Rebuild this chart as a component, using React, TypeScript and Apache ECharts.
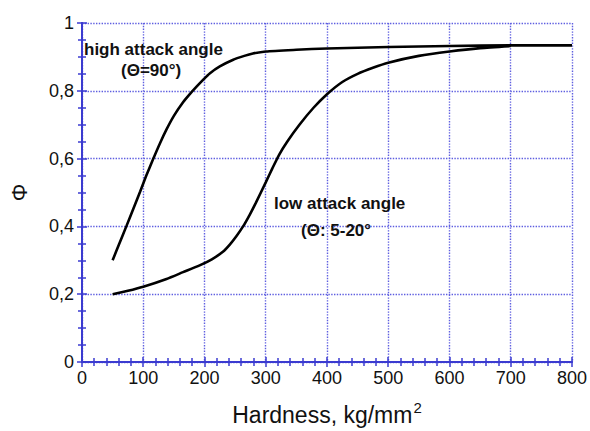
import React, { useEffect, useRef } from "react";
import * as echarts from "echarts";

const highX = [50, 60, 73, 84, 95, 105, 116, 127, 138, 150, 165, 176, 187, 198, 209, 225, 246, 265, 279, 300, 350, 400, 500, 600, 700, 800];
const highY = [0.3, 0.345, 0.403, 0.453, 0.503, 0.55, 0.598, 0.644, 0.686, 0.726, 0.766, 0.79, 0.812, 0.833, 0.852, 0.872, 0.891, 0.903, 0.91, 0.916, 0.921, 0.925, 0.929, 0.932, 0.934, 0.934];
const lowX = [50, 75, 100, 138, 165, 192, 212, 230, 242, 252, 263, 274, 284, 300, 311, 322, 335, 355, 378, 400, 425, 450, 475, 500, 550, 600, 650, 700];
const lowY = [0.2, 0.21, 0.222, 0.245, 0.265, 0.285, 0.303, 0.325, 0.348, 0.371, 0.4, 0.435, 0.47, 0.53, 0.572, 0.612, 0.65, 0.7, 0.75, 0.79, 0.826, 0.85, 0.868, 0.883, 0.903, 0.916, 0.926, 0.932];
const xTicks = [0, 100, 200, 300, 400, 500, 600, 700, 800];
const yTicks = [0, 0.2, 0.4, 0.6, 0.8, 1];

const BLUE = "#3b3bd0";
const GRIDBLUE = "#5e5ee0";

export default function App() {
  const ref = useRef<HTMLDivElement>(null);
  useEffect(() => {
    if (!ref.current) return;
    const chart = echarts.init(ref.current, null, { renderer: "svg" });
    const axisCommon = {
      axisLine: { show: true, lineStyle: { color: BLUE, width: 2 } },
      axisTick: { show: true, inside: true, length: 5, lineStyle: { color: BLUE, width: 1.5 } },
      minorTick: { show: true, splitNumber: 5, length: 4, lineStyle: { color: BLUE, width: 1.5 } },
    };
    chart.setOption({
      animation: false,
      grid: { left: 82, right: 17, top: 23, bottom: 67 },
      xAxis: [
        {
          type: "value",
          min: xTicks[0],
          max: xTicks[xTicks.length - 1],
          interval: 100,
          ...axisCommon,
          axisLabel: { fontFamily: "Liberation Sans", fontSize: 18, color: "#111", margin: 7 },
          splitLine: { show: true, lineStyle: { color: GRIDBLUE, type: "dotted", width: 1.4 } },
          name: "{a|Hardness, kg/mm}{b|2}",
          nameLocation: "middle",
          nameGap: 38,
          nameTextStyle: {
            rich: {
              a: { fontFamily: "Liberation Sans", fontSize: 23, color: "#111" },
              b: { fontFamily: "Liberation Sans", fontSize: 15, color: "#111", verticalAlign: "top", padding: [0, 0, 14, 1] },
            },
          },
        },
        {
          type: "value",
          position: "top",
          min: xTicks[0],
          max: xTicks[xTicks.length - 1],
          interval: 100,
          ...axisCommon,
          axisLabel: { show: false },
          splitLine: { show: false },
        },
      ],
      yAxis: [
        {
          type: "value",
          min: yTicks[0],
          max: yTicks[yTicks.length - 1],
          interval: 0.2,
          ...axisCommon,
          minorTick: { ...axisCommon.minorTick, splitNumber: 4 },
          axisLabel: {
            fontFamily: "Liberation Sans",
            fontSize: 18,
            color: "#111",
            margin: 8,
            formatter: (v: number) => String(Math.round(v * 10) / 10).replace(".", ","),
          },
          splitLine: { show: true, lineStyle: { color: GRIDBLUE, type: "dotted", width: 1.4 } },
          name: "Φ",
          nameLocation: "middle",
          nameRotate: 90,
          nameGap: 52,
          nameTextStyle: { fontFamily: "Liberation Sans", fontSize: 22, color: "#111" },
        },
        {
          type: "value",
          position: "right",
          min: yTicks[0],
          max: yTicks[yTicks.length - 1],
          interval: 0.2,
          ...axisCommon,
          minorTick: { ...axisCommon.minorTick, splitNumber: 4 },
          axisLabel: { show: false },
          splitLine: { show: false },
        },
      ],
      series: [
        {
          type: "line",
          data: highX.map((x, i) => [x, highY[i]]),
          showSymbol: false,
          smooth: 0.2,
          lineStyle: { color: "#000", width: 2.6 },
          z: 5,
        },
        {
          type: "line",
          data: lowX.map((x, i) => [x, lowY[i]]),
          showSymbol: false,
          smooth: 0.2,
          lineStyle: { color: "#000", width: 2.6 },
          z: 5,
        },
      ],
      graphic: [
        {
          type: "text",
          left: 84,
          top: 41,
          z: 10,
          style: { text: "high attack angle", font: "bold 17px 'Liberation Sans'", fill: "#111" },
        },
        {
          type: "text",
          left: 121,
          top: 62,
          z: 10,
          style: { text: "(Θ=90°)", font: "bold 17px 'Liberation Sans'", fill: "#111" },
        },
        {
          type: "text",
          left: 274,
          top: 195,
          z: 10,
          style: { text: "low attack angle", font: "bold 17px 'Liberation Sans'", fill: "#111" },
        },
        {
          type: "text",
          left: 301,
          top: 222,
          z: 10,
          style: { text: "(Θ: 5-20°", font: "bold 17px 'Liberation Sans'", fill: "#111" },
        },
      ],
    });
    return () => chart.dispose();
  }, []);
  return <div ref={ref} style={{ width: 590, height: 431, position: "absolute", left: 0, top: 0 }} />;
}
